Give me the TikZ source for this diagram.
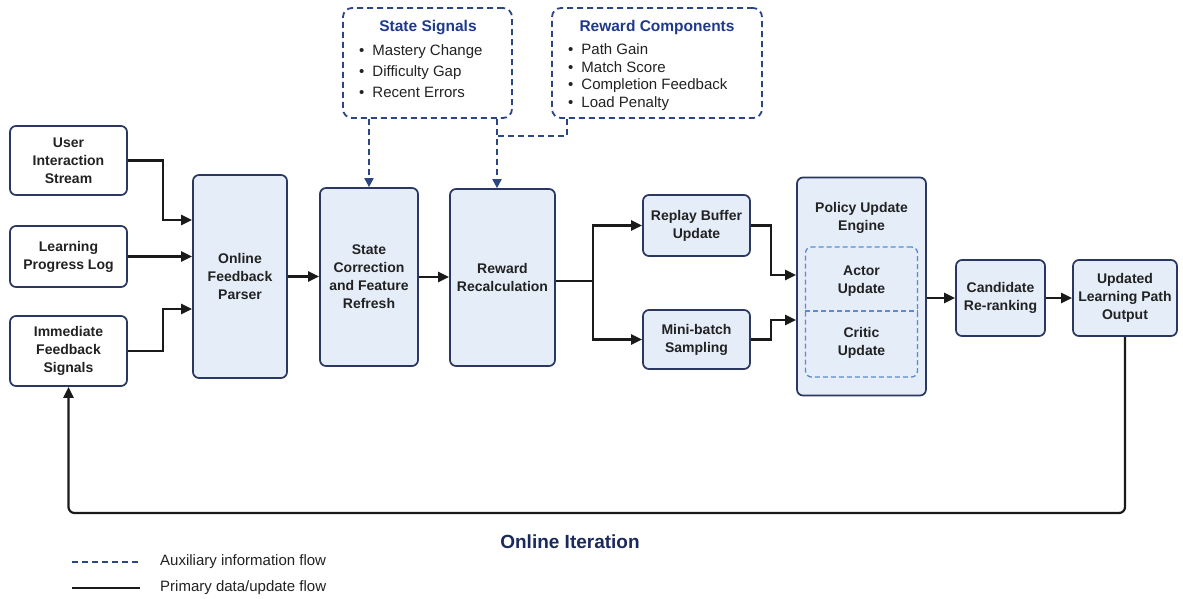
\documentclass[tikz,border=0pt]{standalone}
\usepackage{fontspec}
\setmainfont{Liberation Sans}
\usetikzlibrary{arrows.meta,calc}

\definecolor{boxline}{HTML}{2A3760}
\definecolor{boxfill}{HTML}{E5EDF9}
\definecolor{titleblue}{HTML}{1F3A8C}
\definecolor{auxblue}{HTML}{2C4585}
\definecolor{innerblue}{HTML}{5A8BD2}
\definecolor{flowcol}{HTML}{1A1A1A}
\definecolor{textcol}{HTML}{222222}
\definecolor{iterblue}{HTML}{1B2A5C}

\tikzset{
  basebox/.style={draw=boxline, line width=1.7pt, rounded corners=6pt, align=center,
    inner sep=2pt, font=\fontsize{14}{18}\selectfont\bfseries, text=textcol},
  inbox/.style={basebox, fill=white},
  procbox/.style={basebox, fill=boxfill},
  infobox/.style={draw=auxblue, line width=1.8pt, dash pattern=on 6pt off 4pt, rounded corners=9pt,
    fill=white},
  flow/.style={draw=flowcol, line width=2.2pt, -{Triangle[length=11pt,width=10pt]}},
  aux/.style={draw=auxblue, line width=1.8pt, dash pattern=on 6pt off 4pt},
  auxarrow/.style={aux, -{Triangle[length=9pt,width=9pt]}},
  listtext/.style={align=left, anchor=west, inner sep=0pt, text=textcol},
}

\begin{document}
\begin{tikzpicture}[x=1pt,y=-1pt]
\useasboundingbox (0,0) rectangle (1183,598);
\fill[white] (0,0) rectangle (1183,598);

% inputs
\node[inbox, minimum width=117pt, minimum height=69pt] (u1) at (68.5,160.5) {User\\Interaction\\Stream};
\node[inbox, minimum width=117pt, minimum height=61pt] (u2) at (68.5,256.5) {Learning\\Progress Log};
\node[inbox, minimum width=117pt, minimum height=70pt] (u3) at (68.5,351) {Immediate\\Feedback\\Signals};

% main pipeline
\node[procbox, minimum width=94pt, minimum height=203pt] (ofp) at (240,276.5) {Online\\Feedback\\Parser};
\node[procbox, minimum width=98pt, minimum height=178pt] (scf) at (369,277) {State\\Correction\\and Feature\\Refresh};
\node[procbox, minimum width=105pt, minimum height=177pt] (rr) at (502.5,277.5) {Reward\\Recalculation};
\node[procbox, minimum width=107pt, minimum height=61pt] (rb) at (696.5,225.5) {Replay Buffer\\Update};
\node[procbox, minimum width=107pt, minimum height=59pt] (mb) at (696.5,339.5) {Mini-batch\\Sampling};
\node[procbox, minimum width=129pt, minimum height=218pt] (pue) at (861.5,286.5) {};
\node[basebox, draw=none, fill=none] (puet) at (861.5,217.5) {Policy Update\\Engine};
\node[draw=innerblue, line width=1.3pt, dash pattern=on 5pt off 3pt, rounded corners=6pt,
  minimum width=112pt, minimum height=130pt] (inner) at (861.5,312) {};
\draw[draw=innerblue, line width=1.3pt, dash pattern=on 5pt off 3pt] (inner.west |- 0,311) -- (inner.east |- 0,311);
\node[basebox, draw=none, fill=none] (actor) at (861.5,281.5) {Actor\\Update};
\node[basebox, draw=none, fill=none] (critic) at (861.5,343) {Critic\\Update};
\node[procbox, minimum width=89pt, minimum height=76pt] (cr) at (1000.5,298) {Candidate\\Re-ranking};
\node[procbox, minimum width=104pt, minimum height=76pt] (ulp) at (1125,298) {Updated\\Learning Path\\Output};

% auxiliary information boxes
\node[infobox, minimum width=169pt, minimum height=110pt] (ss) at (427.5,63) {};
\node[font=\fontsize{15.5}{18}\selectfont\bfseries, text=titleblue, inner sep=0pt] (sst) at (428,27.5) {State Signals};
\node[listtext, font=\fontsize{15}{21}\selectfont] (ssl) at (359,71.5)
  {\textbullet\hspace{8pt}Mastery Change\\\textbullet\hspace{8pt}Difficulty Gap\\\textbullet\hspace{8pt}Recent Errors};

\node[infobox, minimum width=210pt, minimum height=110pt] (rc) at (657,63) {};
\node[font=\fontsize{15.5}{18}\selectfont\bfseries, text=titleblue, inner sep=0pt] (rct) at (657,27.5) {Reward Components};
\node[listtext, font=\fontsize{15}{17.7}\selectfont] (rcl) at (568,77)
  {\textbullet\hspace{8pt}Path Gain\\\textbullet\hspace{8pt}Match Score\\\textbullet\hspace{8pt}Completion Feedback\\\textbullet\hspace{8pt}Load Penalty};

% primary flow
\draw[flow] (u1.east) -- ++(35,0) |- ([yshift=56.5pt]ofp.west);
\draw[flow] (u2.east) -- (u2.east -| ofp.west);
\draw[flow] (u3.east) -- ++(35,0) |- ([yshift=-32.5pt]ofp.west);
\draw[flow] (ofp.east) -- (ofp.east -| scf.west);
\draw[flow] (scf.east) -- (scf.east -| rr.west);
\coordinate (split) at (593,281);
\draw[draw=flowcol, line width=2.2pt] ([yshift=-3.5pt]rr.east) -- (split);
\draw[flow] (split) |- (rb.west);
\draw[flow] (split) |- (mb.west);
\draw[flow] (rb.east) -- ++(20,0) |- ([yshift=11.5pt]pue.west);
\draw[flow] (mb.east) -- ++(20,0) |- ([yshift=-33.5pt]pue.west);
\draw[flow] (pue.east |- cr.west) -- (cr.west);
\draw[flow] (cr.east) -- (ulp.west);
\coordinate (loopL) at (68.5,513);
\draw[flow, rounded corners=6pt] (ulp.south) |- (loopL) -- (u3.south);

% auxiliary flow
\coordinate (ax) at (497,0);
\coordinate (rk) at (567,136);
\coordinate (rj) at (497,136);
\draw[auxarrow] (ss.south -| scf.north) -- (scf.north);
\draw[auxarrow] (ss.south -| ax) -- (rr.north -| ax);
\draw[aux] (rc.south -| rk) -- (rk) -- (rj);

% caption and legend
\node[font=\fontsize{19}{22}\selectfont\bfseries, text=iterblue] (iter) at (570,542) {Online Iteration};
\coordinate (la1) at (72,562);
\coordinate (la2) at (140,562);
\coordinate (lb1) at (72,588);
\coordinate (lb2) at (140,588);
\draw[aux, line width=1.7pt] (la1) -- (la2);
\draw[draw=flowcol, line width=2.2pt] (lb1) -- (lb2);
\node[anchor=west, inner sep=0pt, font=\fontsize{15}{17}\selectfont, text=textcol] (lat) at (160,562) {Auxiliary information flow};
\node[anchor=west, inner sep=0pt, font=\fontsize{15}{17}\selectfont, text=textcol] (lbt) at (160,588) {Primary data/update flow};
\end{tikzpicture}
\end{document}
